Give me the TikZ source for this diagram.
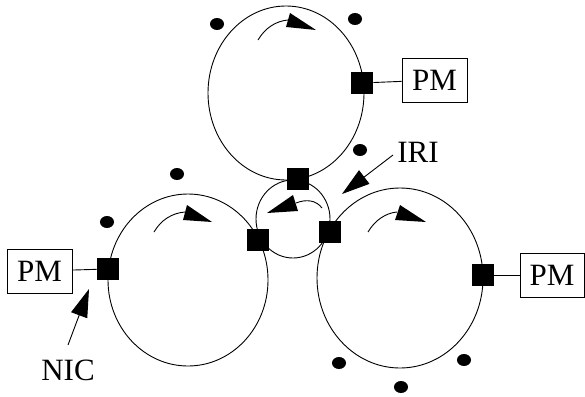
\documentclass[tikz,border=0pt]{standalone}
\usepackage{fontspec}
\setmainfont{Liberation Serif}
\usetikzlibrary{arrows.meta}
\begin{document}
\begin{tikzpicture}[x=1pt,y=-1pt,line width=0.9pt,
  nicbox/.style={fill=black,minimum size=22pt,inner sep=0pt,draw=none},
  pmbox/.style={draw,line width=0.8pt,minimum width=65pt,minimum height=44pt,inner sep=0pt,font=\fontsize{31}{31}\selectfont},
  lbl/.style={inner sep=0pt,font=\fontsize{31}{31}\selectfont},
  pointer/.style={-{Triangle[length=28pt,width=17pt]},line width=0.9pt},
  ring/.style={line width=0.9pt}]
\useasboundingbox (0,0) rectangle (585,396);
% rings
\draw[ring] (286,93) ellipse [x radius=78pt, y radius=87pt];
\draw[ring] (293,219) ellipse [x radius=37pt, y radius=39pt];
\draw[ring] (188,280) ellipse [x radius=80pt, y radius=86pt];
\draw[ring] (400,278) ellipse [x radius=83pt, y radius=90pt];
% direction arrows
\draw (258,40) .. controls (265,28) and (276,21) .. (288,20);
\fill (290,13) -- (286,27) -- (316,30) -- cycle;
\draw (154,232) .. controls (161,220) and (172,213) .. (185,212);
\fill (187,205) -- (183,220) -- (212,222) -- cycle;
\draw (368,232) .. controls (375,220) and (386,213) .. (397,212);
\fill (400,205) -- (395,220) -- (426,222) -- cycle;
\draw (322,208) .. controls (316,200) and (306,199) .. (296,203);
\fill (293,195) -- (298,211) -- (267,213) -- cycle;
% dots
\foreach \p in {(217,24),(355,19),(360,150),(177,174),(107,222),(339,363),(464,360),(401,387)}
  \fill \p ellipse [x radius=7pt, y radius=6pt];
% NIC squares
\node[nicbox] (sqT) at (362,83) {};
\node[nicbox] (sqC) at (298,179) {};
\node[nicbox] (sqL) at (258,240) {};
\node[nicbox] (sqR) at (330,232) {};
\node[nicbox] (sqLL) at (108,269) {};
\node[nicbox] (sqRR) at (483,275) {};
% PM boxes
\node[pmbox] (pmT) at (434.5,80) {PM};
\node[pmbox] (pmL) at (39.5,271) {PM};
\node[pmbox,minimum width=64pt] (pmR) at (552,275) {PM};
\draw (sqT) -- (pmT);
\draw (sqLL) -- (pmL);
\draw (sqRR) -- (pmR);
% labels
\node[lbl] (nic) at (68,370) {NIC};
\node[lbl] (iri) at (418,152) {IRI};
\coordinate (nicTail) at (68,345);
\coordinate (nicTip) at (89,289);
\coordinate (iriTail) at (393,155);
\coordinate (iriTip) at (342,194);
\draw[pointer] (nicTail) -- (nicTip);
\draw[pointer] (iriTail) -- (iriTip);
\end{tikzpicture}
\end{document}
